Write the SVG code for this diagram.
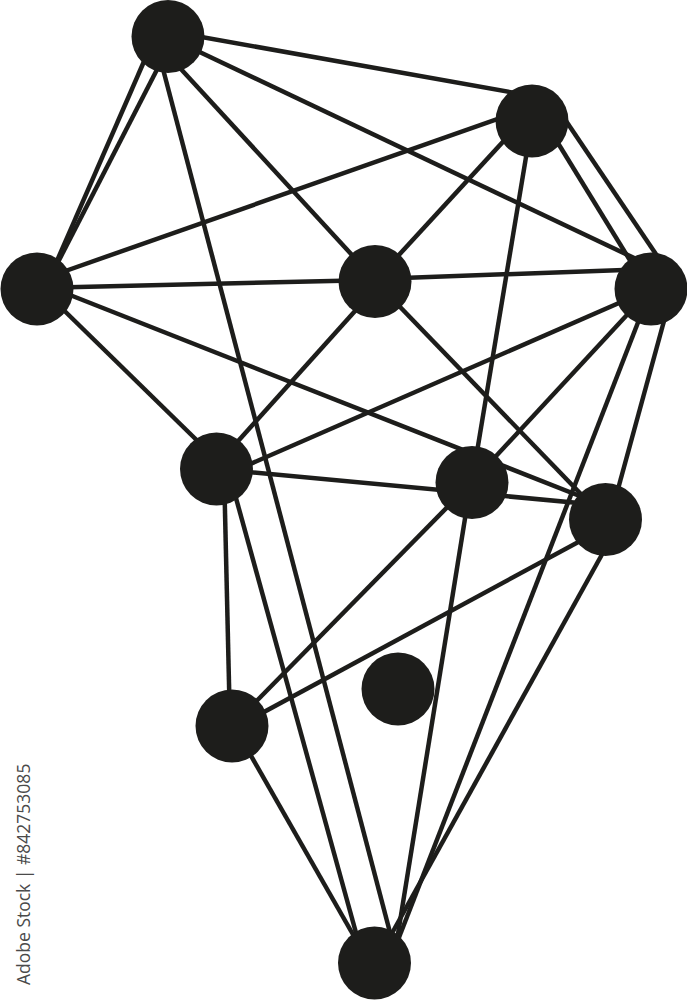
<svg xmlns="http://www.w3.org/2000/svg" width="687" height="1000" viewBox="0 0 687 1000">
<style>
.edge{stroke:#1d1d1b;stroke-width:4.5;stroke-linecap:butt;fill:none}
.node{fill:#1d1d1b}
.wm{font-family:"Open Sans","Noto Sans","Liberation Sans",sans-serif;font-size:17.5px;fill:#4a4a4a}
</style>
<rect width="687" height="1000" fill="#ffffff"/>
<g id="connectors">
<line class="edge" x1="168" y1="31" x2="532" y2="96"/>
<line class="edge" x1="149" y1="50" x2="53" y2="270"/>
<line class="edge" x1="164" y1="56" x2="55" y2="268"/>
<line class="edge" x1="168" y1="55" x2="375" y2="280"/>
<line class="edge" x1="168" y1="37" x2="651" y2="266"/>
<line class="edge" x1="158" y1="50" x2="392" y2="940"/>
<line class="edge" x1="532" y1="107" x2="37" y2="281"/>
<line class="edge" x1="522" y1="121" x2="375" y2="281"/>
<line class="edge" x1="532" y1="121" x2="472" y2="482"/>
<line class="edge" x1="562" y1="115" x2="668" y2="272"/>
<line class="edge" x1="553" y1="135" x2="639" y2="275"/>
<line class="edge" x1="37" y1="288" x2="375" y2="280"/>
<line class="edge" x1="37" y1="284" x2="216" y2="459"/>
<line class="edge" x1="37" y1="282" x2="600" y2="504"/>
<line class="edge" x1="375" y1="279" x2="651" y2="269"/>
<line class="edge" x1="382" y1="281" x2="213" y2="469"/>
<line class="edge" x1="375" y1="281" x2="605" y2="519"/>
<line class="edge" x1="651" y1="289" x2="216" y2="479"/>
<line class="edge" x1="651" y1="289" x2="472" y2="482"/>
<line class="edge" x1="651" y1="289" x2="398" y2="940"/>
<line class="edge" x1="667" y1="310" x2="615" y2="500"/>
<line class="edge" x1="216" y1="469" x2="600" y2="505"/>
<line class="edge" x1="224" y1="469" x2="230" y2="726"/>
<line class="edge" x1="231" y1="480" x2="358" y2="940"/>
<line class="edge" x1="472" y1="482" x2="232" y2="726"/>
<line class="edge" x1="468" y1="500" x2="397" y2="940"/>
<line class="edge" x1="608" y1="526" x2="238" y2="726"/>
<line class="edge" x1="610" y1="540" x2="391" y2="935"/>
<line class="edge" x1="234" y1="726" x2="359" y2="945"/>
</g>
<g id="node-a"><circle class="node" cx="168" cy="36.5" r="36.5"/></g>
<g id="node-b"><circle class="node" cx="532" cy="121" r="36.5"/></g>
<g id="node-c"><circle class="node" cx="37" cy="289" r="36.5"/></g>
<g id="node-d"><circle class="node" cx="375" cy="281.5" r="36.5"/></g>
<g id="node-e"><circle class="node" cx="651" cy="289" r="36.5"/></g>
<g id="node-f"><circle class="node" cx="216.5" cy="469" r="36.5"/></g>
<g id="node-g"><circle class="node" cx="472" cy="482.5" r="36.5"/></g>
<g id="node-h"><circle class="node" cx="605.5" cy="519.5" r="36.5"/></g>
<g id="node-i"><circle class="node" cx="232" cy="726" r="36.5"/></g>
<g id="node-j"><circle class="node" cx="398" cy="689" r="36.5"/></g>
<g id="node-k"><circle class="node" cx="374.5" cy="963" r="36.5"/></g>
<g id="watermark"><text class="wm" x="30" y="985" transform="rotate(-90 30 985)">Adobe Stock | #842753085</text></g>
</svg>
